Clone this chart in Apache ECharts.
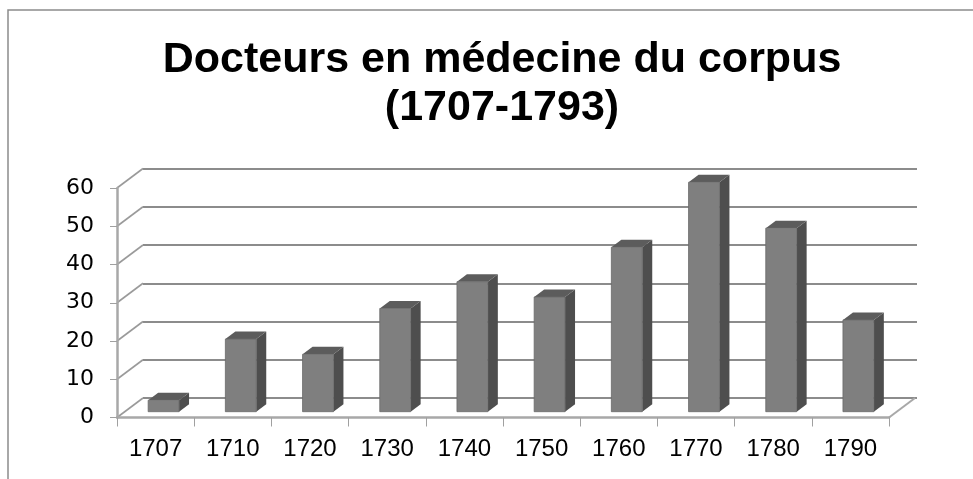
<!DOCTYPE html>
<html>
<head>
<meta charset="utf-8">
<script src="https://cdn.jsdelivr.net/npm/echarts@6/dist/echarts.min.js"></script>
<style>
html,body{margin:0;padding:0;background:#fff;}
#c{width:973px;height:479px;}
</style>
</head>
<body>
<div id="c"></div>
<script>
const titleText = 'Docteurs en médecine du corpus\n(1707-1793)';
const categories = ['1707','1710','1720','1730','1740','1750','1760','1770','1780','1790'];
const values = [3, 19, 15, 27, 34, 30, 43, 60, 48, 24];
const yTicks = [0, 10, 20, 30, 40, 50, 60];

const chart = echarts.init(document.getElementById('c'), null, {renderer: 'canvas'});

const WALL_DX = 26, WALL_DY = -19.5;   // depth of the 3D box
const BAR_DX = 10, BAR_DY = -7.5;      // depth of each bar

const option = {
  animation: false,
  backgroundColor: '#ffffff',
  title: {
    text: titleText,
    left: 497, top: 31, textAlign: 'center',
    textStyle: {fontFamily: 'Liberation Sans', fontWeight: 'bold', fontSize: 43, lineHeight: 48, color: '#000'}
  },
  graphic: [{
    type: 'rect', shape: {x: 8, y: 10, width: 1100, height: 600},
    style: {fill: 'none', stroke: '#8c8c8c', lineWidth: 1.5}, silent: true, z: -10
  }],
  grid: [
    {left: 117, top: 188, width: 772, height: 229.5, outerBoundsMode: 'none'},
    {left: 143, top: 168.5, width: 774, height: 229.5, outerBoundsMode: 'none'},
    {left: 125, top: 182.3, width: 772, height: 229.4, outerBoundsMode: 'none'}
  ],
  xAxis: [
    {gridIndex: 0, type: 'category', data: categories, boundaryGap: true,
     axisLine: {show: true, lineStyle: {color: '#a8a8a8', width: 2.5}},
     axisTick: {show: true, length: 9, lineStyle: {color: '#a0a0a0', width: 1}},
     axisLabel: {margin: 20, fontFamily: 'Liberation Sans', fontSize: 24, color: '#000'},
     splitLine: {show: false}, z: 5},
    {gridIndex: 1, type: 'category', data: categories, show: false},
    {gridIndex: 2, type: 'category', data: categories, show: false}
  ],
  yAxis: [
    {gridIndex: 0, type: 'value', min: 0, max: 60, interval: 10,
     axisLine: {show: true, lineStyle: {color: '#a8a8a8', width: 2.5}},
     axisTick: {show: true, length: 7, lineStyle: {color: '#a0a0a0', width: 1}},
     axisLabel: {margin: 23, fontFamily: 'DejaVu Sans', fontSize: 22, color: '#000'},
     splitLine: {show: false}, z: 5},
    {gridIndex: 1, type: 'value', min: 0, max: 60, interval: 10,
     axisLine: {show: false}, axisTick: {show: false}, axisLabel: {show: false},
     splitLine: {show: true, lineStyle: {color: '#8c8c8c', width: 2.2}}},
    {gridIndex: 2, type: 'value', min: 0, max: 60, interval: 10, show: false}
  ],
  series: [
    {
      name: 'walls', type: 'custom', xAxisIndex: 0, yAxisIndex: 0, z: 1, silent: true,
      data: yTicks.map(v => [0, v]),
      renderItem: function (params, api) {
        const p = api.coord([api.value(0), api.value(1)]);
        const band = api.size([1, 0])[0];
        const x = p[0] - band / 2;
        return {type: 'line', shape: {x1: x, y1: p[1], x2: x + WALL_DX, y2: p[1] + WALL_DY},
          style: {stroke: '#9a9a9a', lineWidth: 1.6}};
      }
    },
    {
      name: 'floor', type: 'custom', xAxisIndex: 0, yAxisIndex: 0, z: 1, silent: true,
      data: [[categories.length - 1, 0]],
      renderItem: function (params, api) {
        const p = api.coord([api.value(0), api.value(1)]);
        const band = api.size([1, 0])[0];
        const x = p[0] + band / 2;
        return {type: 'line', shape: {x1: x, y1: p[1], x2: x + WALL_DX, y2: p[1] + WALL_DY},
          style: {stroke: '#a8a8a8', lineWidth: 2}};
      }
    },
    {
      name: 'Docteurs', type: 'custom', xAxisIndex: 2, yAxisIndex: 2, z: 3,
      data: values.map((v, i) => [i, v]),
      renderItem: function (params, api) {
        const i = api.value(0), v = api.value(1);
        const base = api.coord([i, 0]);
        const top = api.coord([i, v]);
        const band = api.size([1, 0])[0];
        const w = band * 0.4;
        const x0 = base[0] - w / 2, x1 = base[0] + w / 2;
        const y0 = base[1], y1 = top[1];
        return {type: 'group', children: [
          {type: 'polygon', shape: {points: [[x1, y0], [x1 + BAR_DX, y0 + BAR_DY], [x1 + BAR_DX, y1 + BAR_DY], [x1, y1]]},
           style: {fill: '#4e4e4e'}},
          {type: 'polygon', shape: {points: [[x0, y1], [x1, y1], [x1 + BAR_DX, y1 + BAR_DY], [x0 + BAR_DX, y1 + BAR_DY]]},
           style: {fill: '#5c5c5c'}},
          {type: 'rect', shape: {x: x0, y: y1, width: w, height: y0 - y1},
           style: {fill: '#7f7f7f', stroke: '#6a6a6a', lineWidth: 0.8}}
        ]};
      }
    }
  ]
};
chart.setOption(option);
</script>
</body>
</html>
